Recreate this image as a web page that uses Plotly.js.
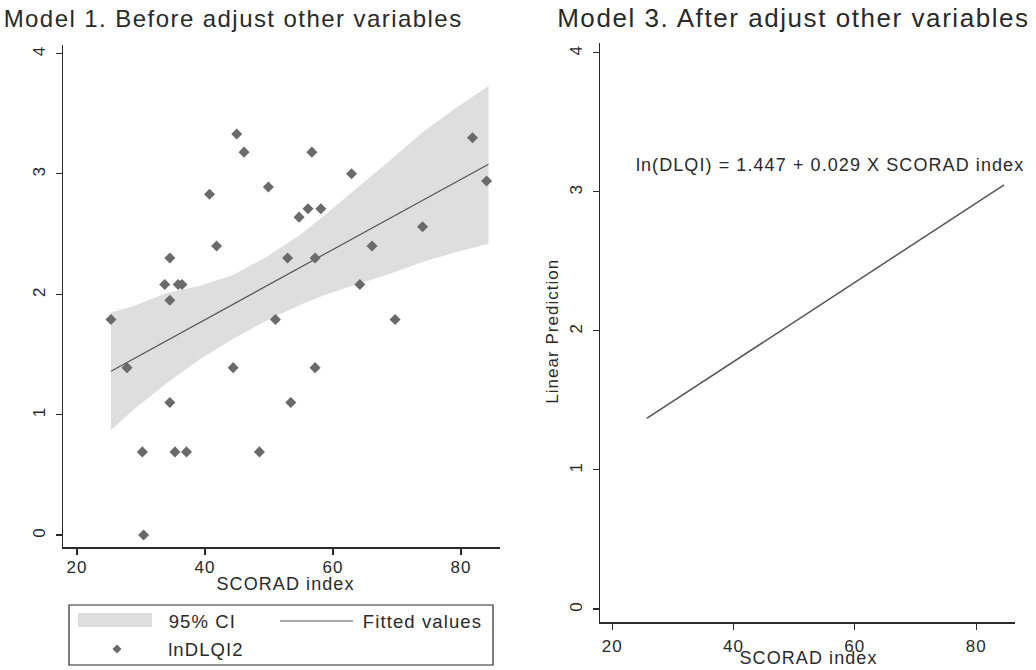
<!DOCTYPE html>
<html>
<head>
<meta charset="utf-8">
<script src="https://cdn.plot.ly/plotly-3.0.1.min.js"></script>
<style>
  html, body { margin: 0; padding: 0; background: #fff; }
  #chart { width: 1036px; height: 670px; }
  .main-svg text { letter-spacing: 0.06em; }
</style>
</head>
<body>
<div id="chart"></div>
<script>
// ---- Data ----
// Model 1: observed points
const scoradX = [44.95, 46.1, 56.7, 81.8, 62.9, 49.9, 40.7, 84.0, 56.1, 58.1, 54.7, 74.0,
                 41.8, 66.1, 34.5, 52.9, 57.2, 33.7, 35.8, 36.4, 64.2, 34.5, 25.3, 51.0,
                 69.7, 27.8, 44.4, 57.2, 34.5, 53.4, 30.2, 35.3, 37.1, 48.5, 30.4];
const lnDLQI2 = [3.33, 3.18, 3.18, 3.30, 3.00, 2.89, 2.83, 2.94, 2.71, 2.71, 2.64, 2.56,
                 2.40, 2.40, 2.30, 2.30, 2.30, 2.08, 2.08, 2.08, 2.08, 1.95, 1.79, 1.79,
                 1.79, 1.39, 1.39, 1.39, 1.10, 1.10, 0.69, 0.69, 0.69, 0.69, 0.00];
// Model 1: fitted line
const fitX = [25.3, 84.3];
const fitY = [1.36, 3.08];
// Model 1: 95% CI band
const ciX     = [25.3, 28.8, 34.0, 39.2, 44.4, 49.6, 54.8, 59.0, 63.7, 68.9, 74.1, 79.3, 84.3];
const ciUpper = [1.85, 1.90, 2.01, 2.07, 2.16, 2.31, 2.49, 2.67, 2.88, 3.11, 3.35, 3.55, 3.73];
const ciLower = [0.87, 1.04, 1.26, 1.46, 1.63, 1.78, 1.91, 2.00, 2.08, 2.17, 2.27, 2.35, 2.42];
// Model 3: linear prediction
const predX = [25.7, 84.6];
const predY = [1.37, 3.05];
// Tick labels
const xTicks = [20, 40, 60, 80];
const yTicks = [0, 1, 2, 3, 4];

// ---- Styling ----
const FONT = "Liberation Sans, Arial, Helvetica, sans-serif";
const INK = "#2a2a2a";
const W = 1036, H = 670;
const px = v => v / W;          // pixel x -> paper
const py = v => (H - v) / H;    // pixel y (from top) -> paper

const axisCommon = {
  showgrid: false, zeroline: false, showline: true,
  linecolor: INK, linewidth: 1.5,
  ticks: "outside", ticklen: 6, tickwidth: 1.2, tickcolor: INK,
  tickfont: { family: FONT, size: 17, color: INK },
  fixedrange: true
};

const traces = [
  {
    x: ciX.concat(ciX.slice().reverse()),
    y: ciUpper.concat(ciLower.slice().reverse()),
    type: "scatter", mode: "lines", fill: "toself",
    fillcolor: "#dedede", line: { width: 0, color: "#dedede" },
    name: "95% CI", showlegend: false, hoverinfo: "skip",
    xaxis: "x", yaxis: "y"
  },
  {
    x: fitX, y: fitY, type: "scatter", mode: "lines",
    line: { color: "#555555", width: 1.2 },
    name: "Fitted values", showlegend: false, xaxis: "x", yaxis: "y"
  },
  {
    x: scoradX, y: lnDLQI2, type: "scatter", mode: "markers",
    marker: { symbol: "diamond", size: 8.5, color: "#6a6a6a" },
    name: "lnDLQI2", showlegend: false, xaxis: "x", yaxis: "y"
  },
  {
    x: predX, y: predY, type: "scatter", mode: "lines",
    line: { color: "#555555", width: 1.5 },
    name: "Linear Prediction", showlegend: false, xaxis: "x2", yaxis: "y2"
  }
];

// legend geometry (pixels)
const LB = { x0: 69, x1: 493, y0: 605, y1: 665 };
const row1 = 621, row2 = 649;
const dia = { cx: 117, cy: 649, r: 4.5 };

const layout = {
  width: W, height: H,
  margin: { l: 0, r: 0, t: 0, b: 0 },
  paper_bgcolor: "#ffffff", plot_bgcolor: "#ffffff",
  showlegend: false,
  font: { family: FONT, color: INK },
  xaxis: Object.assign({}, axisCommon, {
    domain: [px(63), px(500)], range: [17.8, 86.1],
    tickvals: xTicks, ticklabelstandoff: -2, anchor: "y"
  }),
  yaxis: Object.assign({}, axisCommon, {
    domain: [py(547), py(45)], range: [-0.1, 4.07],
    tickvals: yTicks, tickangle: -90, ticklabelstandoff: 4, anchor: "x"
  }),
  xaxis2: Object.assign({}, axisCommon, {
    domain: [px(600), px(1015)], range: [18.0, 86.4],
    tickvals: xTicks, ticklabelstandoff: 2, anchor: "y2"
  }),
  yaxis2: Object.assign({}, axisCommon, {
    domain: [py(622), py(43)], range: [-0.094, 4.07],
    tickvals: yTicks, tickangle: -90, ticklabelstandoff: 4, anchor: "x2"
  }),
  annotations: [
    { text: "Model 1. Before adjust other variables", xref: "paper", yref: "paper",
      x: px(233), y: py(18), xanchor: "center", yanchor: "middle", showarrow: false,
      font: { family: FONT, size: 24, color: INK } },
    { text: "Model 3. After adjust other variables", xref: "paper", yref: "paper",
      x: px(793), y: py(18), xanchor: "center", yanchor: "middle", showarrow: false,
      font: { family: FONT, size: 26, color: INK } },
    { text: "SCORAD index", xref: "paper", yref: "paper",
      x: px(285), y: py(584), xanchor: "center", yanchor: "middle", showarrow: false,
      font: { family: FONT, size: 18, color: INK } },
    { text: "SCORAD index", xref: "paper", yref: "paper",
      x: px(808), y: py(658), xanchor: "center", yanchor: "middle", showarrow: false,
      font: { family: FONT, size: 18, color: INK } },
    { text: "Linear Prediction", xref: "paper", yref: "paper", textangle: -90,
      x: px(552), y: py(331), xanchor: "center", yanchor: "middle", showarrow: false,
      font: { family: FONT, size: 17, color: INK } },
    { text: "ln(DLQI) = 1.447 + 0.029 X SCORAD index", xref: "x2", yref: "y2",
      x: 55.9, y: 3.19, xanchor: "center", yanchor: "middle", showarrow: false,
      font: { family: FONT, size: 18, color: INK } },
    // legend texts
    { text: "95% CI", xref: "paper", yref: "paper", x: px(170), y: py(row1),
      xanchor: "left", yanchor: "middle", showarrow: false,
      font: { family: FONT, size: 18.5, color: INK } },
    { text: "Fitted values", xref: "paper", yref: "paper", x: px(368), y: py(row1),
      xanchor: "left", yanchor: "middle", showarrow: false,
      font: { family: FONT, size: 18.5, color: INK } },
    { text: "lnDLQI2", xref: "paper", yref: "paper", x: px(170), y: py(row2),
      xanchor: "left", yanchor: "middle", showarrow: false,
      font: { family: FONT, size: 18.5, color: INK } }
  ],
  shapes: [
    // legend frame
    { type: "rect", xref: "paper", yref: "paper",
      x0: px(LB.x0), x1: px(LB.x1), y0: py(LB.y1), y1: py(LB.y0),
      line: { color: INK, width: 1.2 }, fillcolor: "rgba(0,0,0,0)" },
    // CI swatch
    { type: "rect", xref: "paper", yref: "paper",
      x0: px(78), x1: px(152), y0: py(627), y1: py(613),
      line: { width: 0 }, fillcolor: "#dedede" },
    // fitted line swatch
    { type: "line", xref: "paper", yref: "paper",
      x0: px(280), x1: px(353), y0: py(row1), y1: py(row1),
      line: { color: "#555555", width: 1.2 } },
    // marker swatch (diamond)
    { type: "path", xref: "paper", yref: "paper",
      path: "M " + px(dia.cx - dia.r) + " " + py(dia.cy) +
            " L " + px(dia.cx) + " " + py(dia.cy - dia.r) +
            " L " + px(dia.cx + dia.r) + " " + py(dia.cy) +
            " L " + px(dia.cx) + " " + py(dia.cy + dia.r) + " Z",
      line: { width: 0 }, fillcolor: "#6a6a6a" }
  ]
};

Plotly.newPlot("chart", traces, layout, { staticPlot: true, displayModeBar: false });
</script>
</body>
</html>
